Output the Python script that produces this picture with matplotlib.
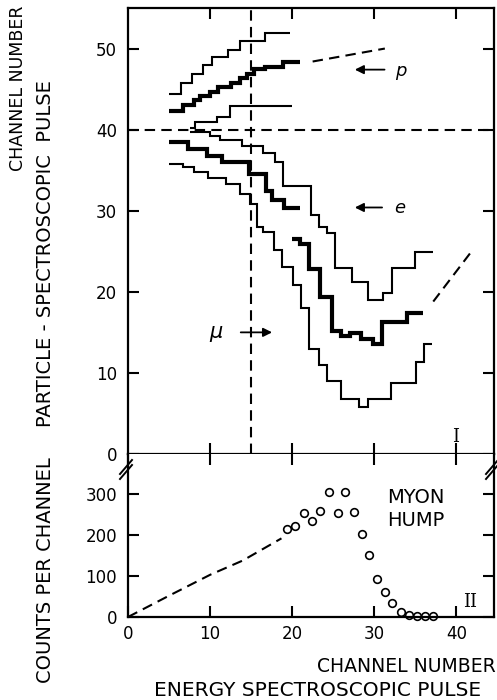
"""
plot.py
Two-panel particle / energy spectroscopic pulse chart (steps + myon hump).
"""

import matplotlib
matplotlib.use("Agg")
import matplotlib.pyplot as plt
from matplotlib.lines import Line2D

# ---- top panel: step curves (bin edges, channel numbers) ----
p_upper_edges = [5.0, 6.5, 7.8, 9.1, 10.2, 12.2, 13.7, 16.7, 19.8]
p_upper_vals = [44.4, 45.7, 46.8, 48.0, 49.0, 49.8, 50.9, 51.9]

p_mid_edges = [5.0, 6.7, 8.0, 8.8, 10.0, 11.0, 12.6, 13.7, 14.5, 15.3, 16.7, 18.9, 21.0]
p_mid_vals = [42.3, 43.0, 43.7, 44.1, 44.7, 45.3, 45.7, 46.4, 46.9, 47.5, 47.7, 48.4]
p_mid_ext_x = [22.5, 31.3]
p_mid_ext_y = [48.4, 50.0]

p_low_edges = [7.6, 8.2, 10.8, 12.4, 20.0]
p_low_vals = [40.2, 41.0, 41.6, 42.9]

e_upper_edges = [7.6, 10.0, 11.2, 13.9, 16.4, 17.9, 18.9, 22.3, 23.3, 24.2, 25.2,
                 27.3, 29.3, 31.1, 32.2, 35.0, 37.2]
e_upper_vals = [39.7, 39.2, 38.7, 38.0, 37.1, 36.0, 33.1, 29.5, 28.0, 27.2, 22.9,
                21.2, 19.0, 19.8, 22.9, 24.9]

e_thick_a_edges = [5.0, 7.3, 9.6, 11.4, 14.8, 16.8, 17.5, 19.0, 21.0]
e_thick_a_vals = [38.5, 37.6, 36.7, 36.0, 34.5, 32.4, 31.3, 30.3]

e_thick_b_edges = [20.0, 21.0, 22.0, 23.4, 24.9, 25.9, 27.0, 28.4, 29.9, 30.9, 34.0, 36.0]
e_thick_b_vals = [26.5, 25.9, 22.8, 19.3, 15.2, 14.5, 14.9, 14.2, 13.6, 16.3, 17.4]

mu_edges = [5.0, 6.7, 8.0, 9.8, 12.0, 13.6, 14.9, 15.7, 16.5, 17.8, 18.8, 20.1,
            21.1, 22.1, 23.3, 24.3, 26.0, 28.1, 29.2, 32.0, 35.1, 36.1, 37.0]
mu_vals = [35.8, 35.4, 34.8, 34.0, 33.3, 32.1, 30.8, 28.0, 27.4, 25.2, 23.1, 20.9,
           18.0, 12.9, 11.0, 9.0, 6.8, 5.8, 6.8, 8.7, 11.3, 13.6]

tail_x = [37.2, 42.1]
tail_y = [18.8, 25.3]

# ---- bottom panel: counts per channel ----
hump_x = [19.4, 20.4, 21.5, 22.4, 23.4, 24.5, 25.6, 26.5, 27.5, 28.5, 29.4, 30.3,
          31.3, 32.2, 33.3, 34.2, 35.2, 36.2, 37.2]
hump_y = [214, 222, 254, 234, 260, 305, 254, 304, 256, 203, 152, 92,
          61, 34, 13, 4, 3, 3, 3]
lead_x = [0, 5, 10, 14, 18.7]
lead_y = [0, 52, 103, 138, 192]

top_yticks = [0, 10, 20, 30, 40, 50]
bot_yticks = [0, 100, 200, 300]
xticks = [0, 10, 20, 30, 40]

plt.rcParams["font.family"] = ["DejaVu Sans"]
DASH = (0, (5, 3))
THIN, THICK = 1.5, 3.0

fig = plt.figure(figsize=(4.97, 7.0), dpi=100)
L, W = 128 / 497, (494 - 128) / 497
ax_top = fig.add_axes([L, 1 - 454 / 700, W, (454 - 8) / 700])
ax_bot = fig.add_axes([L, 1 - 617 / 700, W, (617 - 454) / 700])

for ax in (ax_top, ax_bot):
    ax.set_xlim(0, 44.6)
    for s in ax.spines.values():
        s.set_linewidth(1.6)
    ax.tick_params(direction="in", length=8, width=1.5, labelsize=12,
                   top=True, right=True, pad=8)

# top panel
ax_top.set_ylim(0, 55)
ax_top.set_yticks(top_yticks)
ax_top.set_xticks([10, 20, 30, 40])
ax_top.tick_params(labelbottom=False)

ax_top.stairs(p_upper_vals, p_upper_edges, baseline=None, color="k", lw=THIN)
ax_top.stairs(p_mid_vals, p_mid_edges, baseline=None, color="k", lw=THICK)
ax_top.plot(p_mid_ext_x, p_mid_ext_y, color="k", lw=THIN, ls=DASH)
ax_top.stairs(p_low_vals, p_low_edges, baseline=None, color="k", lw=THIN)
ax_top.stairs(e_upper_vals, e_upper_edges, baseline=None, color="k", lw=THIN)
ax_top.stairs(e_thick_a_vals, e_thick_a_edges, baseline=None, color="k", lw=THICK)
ax_top.stairs(e_thick_b_vals, e_thick_b_edges, baseline=None, color="k", lw=THICK)
ax_top.stairs(mu_vals, mu_edges, baseline=None, color="k", lw=THIN)
ax_top.plot(tail_x, tail_y, color="k", lw=THIN, ls=DASH)

ax_top.axvline(15, color="k", lw=THIN, ls=DASH)
ax_top.axhline(40, color="k", lw=THIN, ls=DASH)

arrow = dict(arrowstyle="-|>", color="k", lw=1.3, mutation_scale=13)
ax_top.annotate("", xy=(27.3, 47.4), xytext=(31.6, 47.4), arrowprops=arrow)
ax_top.text(32.6, 47.2, "p", fontsize=13, va="center", style="italic")
ax_top.annotate("", xy=(27.3, 30.4), xytext=(31.3, 30.4), arrowprops=arrow)
ax_top.text(32.4, 30.3, "e", fontsize=13, va="center", style="italic")
ax_top.annotate("", xy=(17.9, 15.0), xytext=(13.4, 15.0), arrowprops=arrow)
ax_top.text(10.8, 14.8, "$\\mu$", fontsize=15, va="center", ha="center")
ax_top.text(39.9, 2.1, "I", fontsize=13, family="DejaVu Serif",
            ha="center", va="center")

# bottom panel
ax_bot.set_ylim(0, 398)
ax_bot.set_yticks(bot_yticks)
ax_bot.set_xticks(xticks)
ax_bot.spines["top"].set_visible(False)
ax_bot.tick_params(axis="x", pad=6)
ax_bot.plot(lead_x, lead_y, color="k", lw=THIN, ls=DASH)
ax_bot.plot(hump_x, hump_y, ls="none", marker="o", ms=5.5, mfc="white",
            mec="k", mew=1.2, clip_on=False)
ax_bot.text(31.6, 292, "MYON", fontsize=14, va="center")
ax_bot.text(31.6, 235, "HUMP", fontsize=14, va="center")
ax_bot.text(41.7, 37, "II", fontsize=13, family="DejaVu Serif",
            ha="center", va="center")

# axis break marks on both sides
for x0 in (120, 486):
    for dy in (0, 5):
        fig.add_artist(Line2D([x0 / 497, (x0 + 12) / 497],
                              [1 - (474 + dy) / 700, 1 - (460 + dy) / 700],
                              color="k", lw=1.4))

# axis titles
fig.text(18 / 497, 1 - 88 / 700, "CHANNEL NUMBER", rotation=90,
         ha="center", va="center", fontsize=12.5)
fig.text(46 / 497, 1 - 254 / 700, "PARTICLE - SPECTROSCOPIC  PULSE", rotation=90,
         ha="center", va="center", fontsize=14)
fig.text(46 / 497, 1 - 570 / 700, "COUNTS PER CHANNEL", rotation=90,
         ha="center", va="center", fontsize=14)
fig.text(496 / 497, 1 - 667 / 700, "CHANNEL NUMBER", ha="right",
         va="center", fontsize=13.5)
fig.text(318 / 497, 1 - 690 / 700, "ENERGY SPECTROSCOPIC PULSE", ha="center",
         va="center", fontsize=14.5)

fig.savefig("out.png", dpi=100)
plt.close(fig)
print("saved out.png")
